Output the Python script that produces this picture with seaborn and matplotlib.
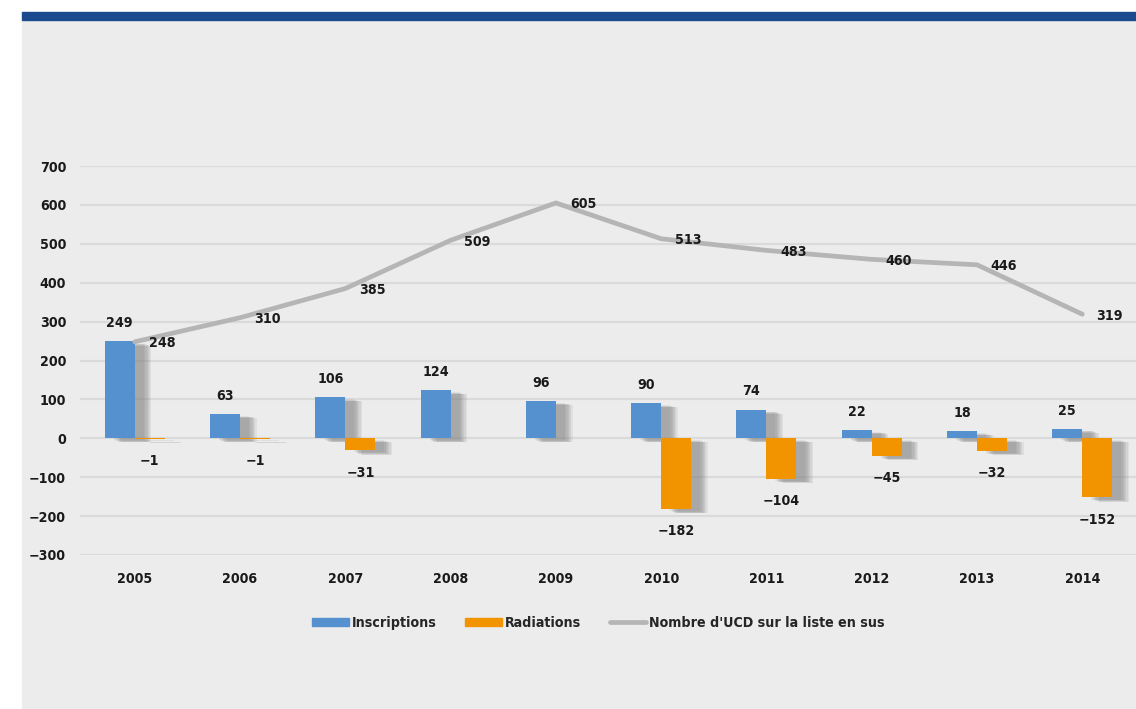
import numpy as np
import pandas as pd
import matplotlib
matplotlib.use("Agg")
import matplotlib.pyplot as plt
import matplotlib.patheffects as pe
from matplotlib.patches import Rectangle, Patch
from matplotlib.lines import Line2D
import seaborn as sns

# données
annees = ["2005", "2006", "2007", "2008", "2009", "2010", "2011", "2012", "2013", "2014"]
inscriptions = [249, 63, 106, 124, 96, 90, 74, 22, 18, 25]
radiations = [-1, -1, -31, np.nan, np.nan, -182, -104, -45, -32, -152]
nombre_ucd = [248, 310, 385, 509, 605, 513, 483, 460, 446, 319]
y_ticks = [-300, -200, -100, 0, 100, 200, 300, 400, 500, 600, 700]

BLEU = "#5591cf"
ORANGE = "#f29400"
GRIS = "#b5b5b5"
FOND = "#ececec"
TXT = "#1a1a1a"
FS = 10.2

sns.set_style("white")
plt.rcParams["font.family"] = ["DejaVu Sans"]
plt.rcParams["font.stretch"] = "condensed"
plt.rcParams["font.weight"] = "bold"

df = pd.DataFrame({
    "annee": annees * 2,
    "valeur": inscriptions + radiations,
    "serie": ["Inscriptions"] * len(annees) + ["Radiations"] * len(annees),
})

fig = plt.figure(figsize=(11.36, 7.09), dpi=100)
fig.patch.set_facecolor("white")
# panneau gris + bandeau bleu
fig.patches.append(Rectangle((22 / 1136, 0.002), 1, 1 - 20 / 709 - 0.002,
                             transform=fig.transFigure, color=FOND, zorder=-2))
fig.patches.append(Rectangle((22 / 1136, 1 - 20 / 709), 1, 8 / 709,
                             transform=fig.transFigure, color="#1c4a8f", zorder=-2))

ax = fig.add_axes([80 / 1136, 1 - 555 / 709, 1 - 80 / 1136, 389 / 709])
ax.set_facecolor("none")
ax.set_zorder(1)

sns.barplot(data=df, x="annee", y="valeur", hue="serie",
            palette=[BLEU, ORANGE], width=0.57, gap=0, linewidth=0,
            saturation=1, legend=False, ax=ax, zorder=3)

# ombre portée floue (plusieurs couches décalées)
shadow = [pe.SimplePatchShadow(offset=(ox, oy), shadow_rgbFace="#777777", alpha=0.11)
          for ox, oy in ((6.5, -1.5), (7.5, -2), (8.5, -2), (9.2, -2.5), (10, -2.5), (11, -3), (12, -3))]
shadow.append(pe.Normal())
for bar in ax.patches:
    bar.set_path_effects(shadow)

x = np.arange(len(annees))
sns.lineplot(x=x, y=nombre_ucd, color=GRIS, lw=3.4, ax=ax, zorder=4,
             solid_capstyle="round")

# étiquettes
off = 0.57 / 4
for i, v in enumerate(inscriptions):
    ax.annotate(f"{v}", (x[i] - off, v), xytext=(0, 13), textcoords="offset points",
                ha="center", va="center", fontsize=FS, color=TXT, zorder=6)
for i, v in enumerate(radiations):
    if np.isnan(v):
        continue
    ax.annotate(f"\u2212{abs(int(v))}", (x[i] + off, v), xytext=(0, -16),
                textcoords="offset points", ha="center", va="center",
                fontsize=FS, color=TXT, zorder=6)
for i, v in enumerate(nombre_ucd):
    ax.annotate(f"{v}", (x[i], v), xytext=(19.5, -1), textcoords="offset points",
                ha="center", va="center", fontsize=FS, color=TXT, zorder=6)

ax.set_ylim(-300, 700)
ax.set_xlim(-0.52, 9.51)
ax.set_yticks(y_ticks)
ax.set_yticklabels([f"\u2212{abs(t)}" if t < 0 else f"{t}" for t in y_ticks])
ax.grid(axis="y", color="#dadada", lw=1.6, zorder=0)
ax.set_axisbelow(True)
sns.despine(ax=ax, left=True, bottom=True)
ax.tick_params(length=0, labelsize=FS, colors=TXT, pad=10)
ax.tick_params(axis="x", pad=12)
ax.set_xlabel("")
ax.set_ylabel("")

handles = [Patch(color=BLEU), Patch(color=ORANGE),
           Line2D([], [], color=GRIS, lw=3.4, solid_capstyle="round")]
labels = ["Inscriptions", "Radiations", "Nombre d'UCD sur la liste en sus"]
fig.legend(handles, labels, loc="center", bbox_to_anchor=(0.527, 1 - 623 / 709),
           ncol=3, frameon=False, handlelength=2.6, handleheight=0.55,
           handletextpad=0.2, columnspacing=2.0,
           prop={"weight": "bold", "size": FS, "stretch": "condensed"})

fig.savefig("out.png", dpi=100, facecolor="white")
